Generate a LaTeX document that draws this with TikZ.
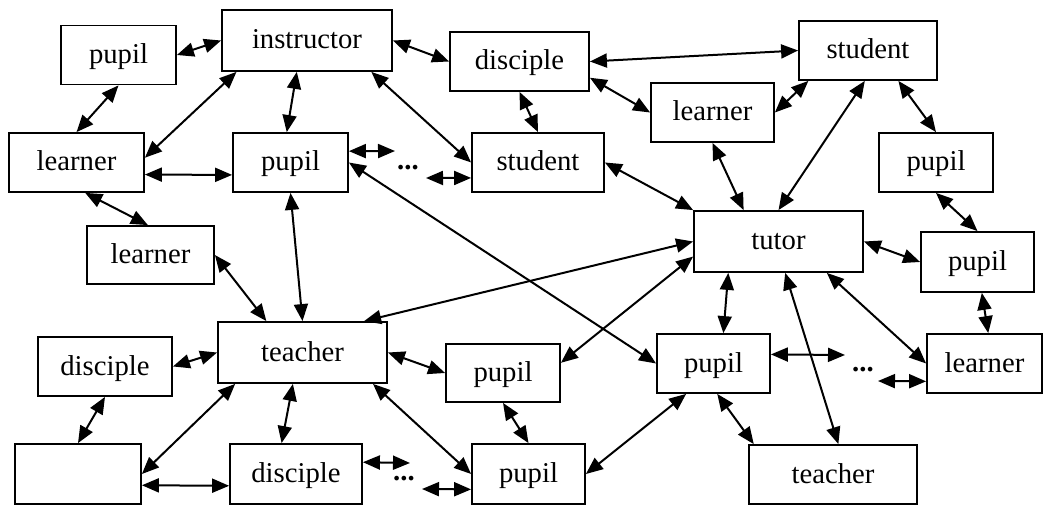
\documentclass[tikz,border=0pt]{standalone}
\usepackage{fontspec}
\setmainfont{Liberation Serif}
\usetikzlibrary{arrows.meta}

\begin{document}
\begin{tikzpicture}[x=1pt,y=-1pt,
  box/.style={draw,line width=1.8pt,inner sep=0pt,minimum height=59pt,
    text height=20pt,text depth=3pt,font=\fontsize{28.7}{34}\selectfont},
  gap/.style={inner sep=0pt,font=\fontsize{28.7}{34}\selectfont\bfseries},
  link/.style={line width=2pt,{Triangle[length=17pt,width=14pt]}-{Triangle[length=17pt,width=14pt]}}]
\useasboundingbox (0,0) rectangle (1044,505);
% boxes
\node[box,minimum width=115pt] (pu1) at (118.5,55) {pupil};
\node[box,minimum width=170pt,minimum height=61pt] (ins) at (307,40.5) {instructor};
\node[box,minimum width=139pt] (di1) at (519.5,61.5) {disciple};
\node[box,minimum width=138pt] (stT) at (868,50.5) {student};
\node[box,minimum width=135pt] (le1) at (76.5,162.5) {learner};
\node[box,minimum width=115pt] (pu2) at (290.5,162.5) {pupil};
\node[box,minimum width=132pt] (stM) at (538,162.5) {student};
\node[box,minimum width=123pt] (le2) at (712.5,112.5) {learner};
\node[box,minimum width=114pt] (pu3) at (936,162.5) {pupil};
\node[box,minimum width=127pt,minimum height=58pt] (le3) at (150.5,255) {learner};
\node[box,minimum width=169pt,minimum height=61pt] (tut) at (778.5,241.5) {tutor};
\node[box,minimum width=113pt,minimum height=60pt] (pu4) at (977.5,262) {pupil};
\node[box,minimum width=169pt,minimum height=61pt] (tea) at (302.5,352.5) {teacher};
\node[box,minimum width=134pt] (di2) at (105,366.5) {disciple};
\node[box,minimum width=114pt,minimum height=58pt] (pu5) at (503,373) {pupil};
\node[box,minimum width=113pt] (pu6) at (713.5,363.5) {pupil};
\node[box,minimum width=115pt] (le4) at (984.5,363.5) {learner};
\node[box,minimum width=126pt,minimum height=60pt] (emp) at (78,474) {};
\node[box,minimum width=132pt,minimum height=60pt] (di3) at (296,474) {disciple};
\node[box,minimum width=113pt,minimum height=60pt] (pu7) at (528.5,474) {pupil};
\node[box,minimum width=168pt] (te2) at (833,474.5) {teacher};
% dots
\node[gap] (dA) at (408,168) {...};
\node[gap] (dB) at (404,479) {...};
\node[gap] (dC) at (863,370) {...};
\coordinate (gA1) at (395,151);
\coordinate (gA2) at (426,178);
\coordinate (gB1) at (410,463);
\coordinate (gB2) at (422,489);
\coordinate (gC1) at (845,355);
\coordinate (gC2) at (878,381);
% links
\draw[link] (pu1.east) -- (ins.west);
\draw[link] (pu1.south) -- (le1.north);
\draw[link] (ins.204) -- (le1.4);
\draw[link] (ins.252) -- (pu2.97);
\draw[link] (ins.334) -- (stM.west);
\draw[link] (ins.east) -- (di1.west);
\draw[link] (le1.350) -- (pu2.192);
\draw[link] (le1.286) -- (le3.95);
\draw[link] (pu2.11) -- (gA1);
\draw[link] (gA2) -- (stM.193);
\draw[link] (pu2.south) -- (tea.north);
\draw[link] (pu2.east) -- (pu6.west);
\draw[link] (di1.east) -- (stT.west);
\draw[link] (di1.south) -- (stM.north);
\draw[link] (di1.347) -- (le2.west);
\draw[link] (le2.east) -- (stT.207);
\draw[link] (stT.264) -- (tut.north);
\draw[link] (stT.315) -- (pu3.north);
\draw[link] (le2.south) -- (tut.138);
\draw[link] (stM.east) -- (tut.north west);
\draw[link] (pu3.south) -- (pu4.north);
\draw[link] (tut.east) -- (pu4.west);
\draw[link] (tut.west) -- (tea.27);
\draw[link] (tut.190) -- (pu5.10);
\draw[link] (tut.212) -- (pu6.72);
\draw[link] (tut.282) -- (te2.80);
\draw[link] (tut.327) -- (le4.west);
\draw[link] (pu4.278) -- (le4.83);
\draw[link] (pu6.9) -- (gC1);
\draw[link] (gC2) -- (le4.197);
\draw[link] (pu6.277) -- (te2.159);
\draw[link] (pu6.228) -- (pu7.east);
\draw[link] (le3.east) -- (tea.139);
\draw[link] (tea.west) -- (di2.east);
\draw[link] (tea.205) -- (emp.east);
\draw[link] (tea.253) -- (di3.115);
\draw[link] (tea.336) -- (pu7.west);
\draw[link] (tea.east) -- (pu5.west);
\draw[link] (pu5.south) -- (pu7.north);
\draw[link] (di2.south) -- (emp.north);
\draw[link] (emp.350) -- (di3.190);
\draw[link] (di3.10) -- (gB1);
\draw[link] (gB2) -- (pu7.195);
\end{tikzpicture}
\end{document}
